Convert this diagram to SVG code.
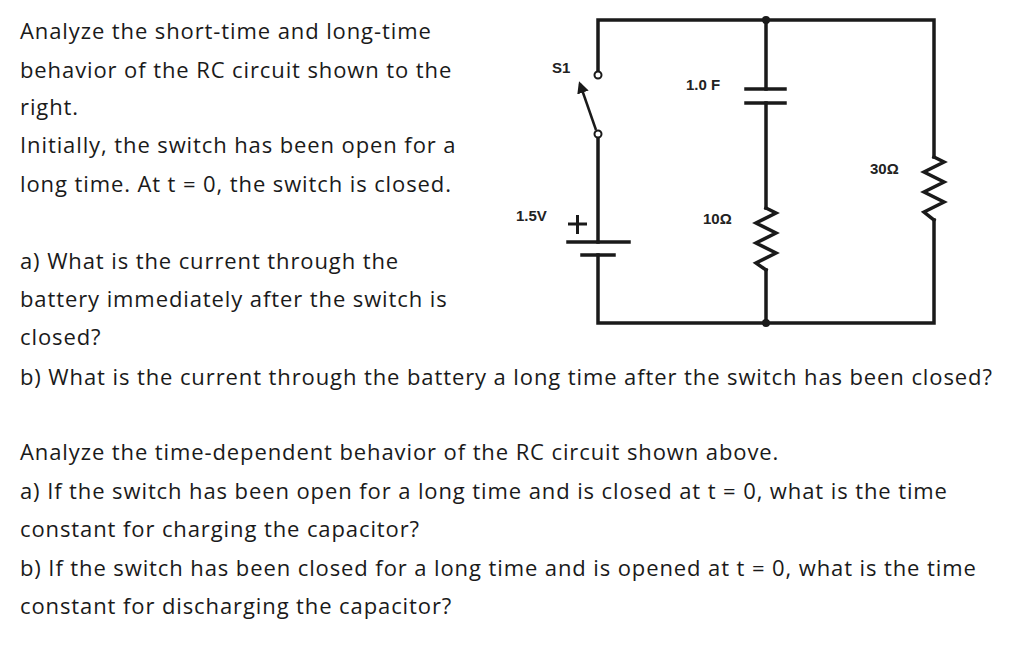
<svg xmlns="http://www.w3.org/2000/svg" width="1024" height="672" viewBox="0 0 1024 672">
<style>
.t{font-family:"Open Sans",sans-serif;font-size:22px;letter-spacing:0.9px;fill:#1a1a1a}
.l{font-family:"Liberation Sans",Arial,sans-serif;font-size:15px;font-weight:bold;fill:#222}
.w{stroke:#1a1a1a;stroke-width:3.5;fill:none;stroke-linecap:square}
</style>
<defs><marker id="ah" markerWidth="12" markerHeight="12" refX="9" refY="6" orient="auto" markerUnits="userSpaceOnUse"><path d="M0,0L12,6L0,12z" fill="#1a1a1a"/></marker></defs>
<rect width="1024" height="672" fill="#fff"/>
<g id="text">
<text class="t" x="20" y="39">Analyze the short-time and long-time</text>
<text class="t" x="20" y="78">behavior of the RC circuit shown to the</text>
<text class="t" x="20" y="115">right.</text>
<text class="t" x="20" y="153">Initially, the switch has been open for a</text>
<text class="t" x="20" y="192">long time. At t = 0, the switch is closed.</text>
<text class="t" x="20" y="269">a) What is the current through the</text>
<text class="t" x="20" y="307">battery immediately after the switch is</text>
<text class="t" x="20" y="345">closed?</text>
<text class="t" x="20" y="385">b) What is the current through the battery a long time after the switch has been closed?</text>
<text class="t" x="20" y="460">Analyze the time-dependent behavior of the RC circuit shown above.</text>
<text class="t" x="20" y="499">a) If the switch has been open for a long time and is closed at t = 0, what is the time</text>
<text class="t" x="20" y="537">constant for charging the capacitor?</text>
<text class="t" x="20" y="576">b) If the switch has been closed for a long time and is opened at t = 0, what is the time</text>
<text class="t" x="20" y="614">constant for discharging the capacitor?</text>
</g>
<g id="connectors">
<path class="w" d="M598,62V20H934V157M934,220V323H598V255M598,242V137M598,72V62"/>
<path class="w" d="M766,20V89M766,103V208M766,270V323"/>
</g>
<g id="switch">
<circle cx="598" cy="75" r="3.5" fill="#fff" stroke="#1a1a1a" stroke-width="2"/>
<circle cx="598" cy="134" r="3.5" fill="#fff" stroke="#1a1a1a" stroke-width="2"/>
<line x1="596" y1="130" x2="580" y2="84" stroke="#1a1a1a" stroke-width="2.5" marker-end="url(#ah)"/>
<text class="l" x="552" y="73">S1</text>
</g>
<g id="battery">
<line class="w" x1="568" y1="242" x2="629" y2="242" stroke-linecap="butt"/>
<line class="w" x1="582" y1="255" x2="614" y2="255" stroke-linecap="butt"/>
<path d="M568,224H587M577.5,215V234" stroke="#1a1a1a" stroke-width="3"/>
<text class="l" x="516" y="221">1.5V</text>
</g>
<g id="capacitor">
<line class="w" x1="746" y1="89" x2="785" y2="89" stroke-linecap="butt"/>
<line class="w" x1="746" y1="103" x2="785" y2="103" stroke-linecap="butt"/>
<text class="l" x="686" y="90">1.0 F</text>
</g>
<g id="r10">
<path class="w" stroke-linejoin="miter" d="M766,208L776,213L756,223L776,233L756,243L776,253L756,263L766,270"/>
<text class="l" x="703" y="224">10Ω</text>
</g>
<g id="r30">
<path class="w" d="M934,157L944,162L924,172L944,182L924,192L944,202L924,212L934,220"/>
<text class="l" x="870" y="174">30Ω</text>
</g>
<circle cx="766" cy="20" r="4" fill="#1a1a1a"/>
<circle cx="766" cy="323" r="4" fill="#1a1a1a"/>
</svg>
